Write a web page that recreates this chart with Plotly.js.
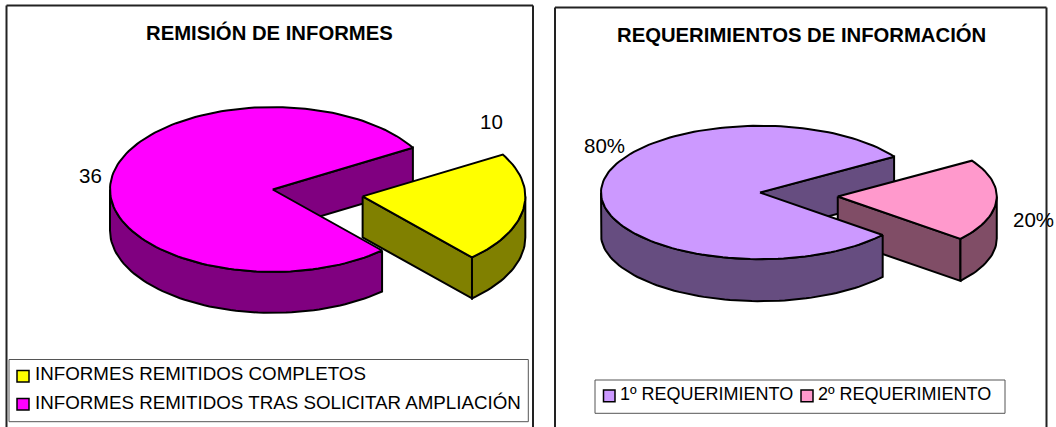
<!DOCTYPE html>
<html><head><meta charset="utf-8">
<script src="https://cdn.plot.ly/plotly-3.0.1.min.js"></script>
<style>html,body{margin:0;padding:0;background:#fff;overflow:hidden}#c{width:1056px;height:427px}</style>
</head><body><div id="c"></div>
<script>
const remisionTitle = "REMISIÓN DE INFORMES";
const remisionCategories = ["INFORMES REMITIDOS COMPLETOS", "INFORMES REMITIDOS TRAS SOLICITAR AMPLIACIÓN"];
const remisionValues = [10, 36];
const remisionLabels = ["10", "36"];
const remisionColors = ["#FFFF00", "#FF00FF"];
const remisionDark = ["#808000", "#800080"];

const requerTitle = "REQUERIMIENTOS DE INFORMACIÓN";
const requerCategories = ["1º REQUERIMIENTO", "2º REQUERIMIENTO"];
const requerValues = [80, 20];
const requerLabels = ["80%", "20%"];
const requerColors = ["#CC99FF", "#FF99CC"];
const requerDark = ["#664D80", "#804D66"];

const FONT = "Liberation Sans, Arial, sans-serif";
const traces = [], shapes = [], annotations = [];

function ring(g, a0, a1, dz, ox, oy) {
  const pts = [], n = Math.max(2, Math.ceil(Math.abs(a1 - a0) / 2));
  for (let i = 0; i <= n; i++) {
    const a = (a0 + (a1 - a0) * i / n) * Math.PI / 180;
    pts.push([g.cx + ox + g.rx * Math.cos(a), g.cy + oy - g.ry * Math.sin(a) + dz]);
  }
  return pts;
}
function poly(pts, fill) {
  const closed = pts.concat([pts[0]]);
  traces.push({type: "scatter", mode: "lines", x: closed.map(p => p[0]), y: closed.map(p => p[1]),
    fill: "toself", fillcolor: fill, line: {color: "#000", width: 2}, hoverinfo: "skip", showlegend: false});
}
function drawPie(g, small, big, colorS, colorB, darkS, darkB) {
  const total = small + big;
  const sweep = small / total * 360;
  const a0 = g.start, a1 = g.start - sweep;
  const mid = (a0 + a1) / 2 * Math.PI / 180;
  const ox = g.rx * g.explode * Math.cos(mid) + g.ox, oy = -g.ry * g.explode * Math.sin(mid) + g.oy;
  const apex = [g.cx + ox, g.cy + oy];
  // main slice inner radial wall sits behind the exploded slice
  const c = [g.cx, g.cy];
  const rimA = ring(g, a0, a0, 0, 0, 0)[0];
  poly([c, rimA, [rimA[0], rimA[1] + g.depth], [c[0], c[1] + g.depth]], darkB);
  // exploded slice: radial wall, outer wall, top
  const rimEnd = ring(g, a1, a1, 0, ox, oy)[0];
  poly([apex, rimEnd, [rimEnd[0], rimEnd[1] + g.depth], [apex[0], apex[1] + g.depth]], darkS);
  const outerTop = ring(g, a1, 0, 0, ox, oy);
  const outerBot = ring(g, a1, 0, g.depth, ox, oy);
  poly(outerTop.concat(outerBot.reverse()), darkS);
  poly([apex].concat(ring(g, a0, a1, 0, ox, oy)), colorS);
  // main slice: outer wall, top
  const wallTop = ring(g, a1, -180, 0, 0, 0);
  const wallBot = ring(g, a1, -180, g.depth, 0, 0);
  poly(wallTop.concat(wallBot.reverse()), darkB);
  poly([c].concat(ring(g, a0, a1 + 360, 0, 0, 0)), colorB);
}
function frame(x0, x1, y0) {
  [[x0, y0, x0, 440], [x0, y0, x1, y0], [x1, y0, x1, 440]].forEach(s =>
    shapes.push({type: "line", xref: "x", yref: "y", x0: s[0], y0: s[1], x1: s[2], y1: s[3], line: {color: "#222", width: 2}}));
}
function rect(x0, y0, x1, y1, fill, color, width) {
  shapes.push({type: "rect", xref: "x", yref: "y", x0, y0, x1, y1, fillcolor: fill, line: {color, width}, layer: "above"});
}
function text(x, y, t, size, anchor, bold) {
  annotations.push({xref: "x", yref: "y", x, y, text: bold ? "<b>" + t + "</b>" : t, showarrow: false,
    xanchor: anchor, yanchor: "middle", font: {family: FONT, size, color: "#000"}, borderpad: 0});
}

frame(6.5, 533, 5.5);
frame(555, 1046.5, 7.5);

const gLeft = {cx: 272.7, cy: 189.5, rx: 162.7, ry: 82.4, depth: 41, start: 30.5, explode: 0.559, ox: 0, oy: 0};
const gRight = {cx: 760, cy: 192.5, rx: 159, ry: 66.7, depth: 42, start: 32.5, explode: 0.49, ox: 0, oy: 2};
drawPie(gLeft, remisionValues[0], remisionValues[1], remisionColors[0], remisionColors[1], remisionDark[0], remisionDark[1]);
drawPie(gRight, requerValues[1], requerValues[0], requerColors[1], requerColors[0], requerDark[1], requerDark[0]);

text(269, 32.5, remisionTitle, 20.3, "center", true);
text(801.3, 34, requerTitle, 20.3, "center", true);
text(491, 121, remisionLabels[0], 20.5, "center");
text(90.7, 175, remisionLabels[1], 20.5, "center");
text(604.7, 145, requerLabels[0], 20.5, "center");
text(1033.3, 219, requerLabels[1], 20.5, "center");

rect(9, 359.5, 528.3, 421.7, "#fff", "#555", 1);
rect(17, 370.5, 29, 382, remisionColors[0], "#000", 1.5);
rect(17, 398.5, 29, 410, remisionColors[1], "#000", 1.5);
text(34, 373.5, remisionCategories[0], 18.75, "left");
text(34, 402, remisionCategories[1], 18.75, "left");

rect(595, 380, 1005, 413.3, "#fff", "#555", 1);
rect(603.5, 390, 615, 401.7, requerColors[0], "#000", 1.5);
rect(801, 390, 813, 401.7, requerColors[1], "#000", 1.5);
text(619, 394, requerCategories[0], 18, "left");
text(816.5, 394, requerCategories[1], 18, "left");

const layout = {
  width: 1056, height: 427, margin: {l: 0, r: 0, t: 0, b: 0},
  paper_bgcolor: "#fff", plot_bgcolor: "#fff", showlegend: false,
  xaxis: {range: [0, 1056], visible: false, fixedrange: true},
  yaxis: {range: [427, 0], visible: false, fixedrange: true},
  shapes, annotations
};
Plotly.newPlot("c", traces, layout, {displayModeBar: false, staticPlot: true});
</script></body></html>
